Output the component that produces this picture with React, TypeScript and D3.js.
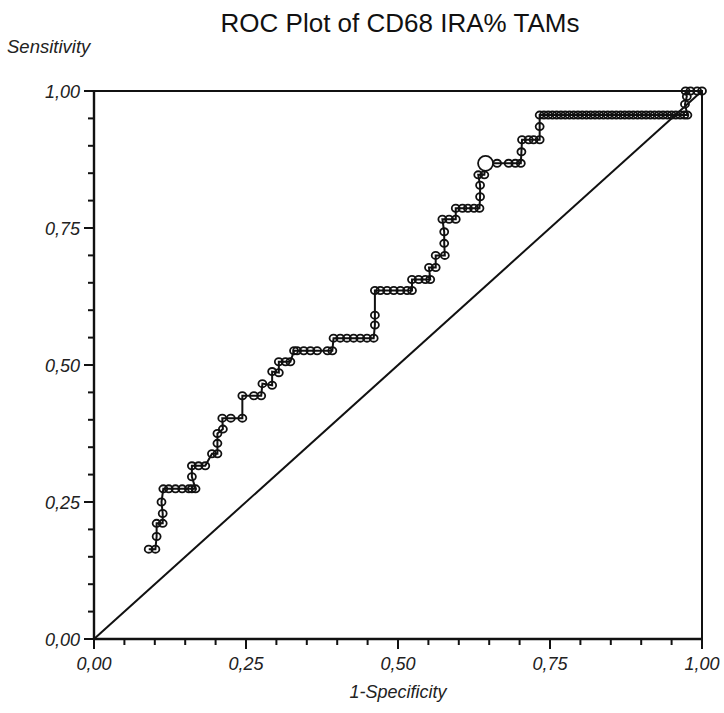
import React, { useEffect, useRef } from "react";
import * as d3 from "d3";

const title = "ROC Plot of CD68 IRA% TAMs";
const xLabel = "1-Specificity";
const yLabel = "Sensitivity";
const majorTicks = [0, 0.25, 0.5, 0.75, 1];
const minorTicks = [0.05, 0.1, 0.15, 0.2, 0.3, 0.35, 0.4, 0.45, 0.55, 0.6, 0.65, 0.7, 0.8, 0.85, 0.9, 0.95];

// 1-specificity values of ROC points
const fpr = [
  0.090, 0.101, 0.103, 0.103, 0.113, 0.113, 0.111, 0.114, 0.123, 0.134, 0.145, 0.156, 0.161, 0.167,
  0.161, 0.161, 0.172, 0.183,
  0.194, 0.203, 0.203, 0.203, 0.212, 0.211, 0.225, 0.244,
  0.244, 0.263, 0.275,
  0.277, 0.293, 0.293, 0.304, 0.304, 0.315, 0.323,
  0.329, 0.334, 0.345, 0.356, 0.367, 0.384, 0.392,
  0.394, 0.405, 0.416, 0.427, 0.438, 0.449, 0.460,
  0.462, 0.462, 0.462, 0.471, 0.482, 0.493, 0.504, 0.515, 0.523,
  0.523, 0.534, 0.545, 0.553,
  0.551, 0.562, 0.562, 0.577,
  0.576, 0.576, 0.573, 0.584, 0.595,
  0.595, 0.606, 0.615, 0.625, 0.634,
  0.635, 0.635, 0.632, 0.642,
  0.644, 0.663, 0.682, 0.693, 0.702,
  0.703, 0.704, 0.715, 0.723, 0.733,
  0.733, 0.733, 0.740, 0.747, 0.754, 0.761, 0.768, 0.775, 0.782, 0.789, 0.796, 0.803, 0.810,
  0.817, 0.824, 0.831, 0.838, 0.845, 0.852, 0.859, 0.866, 0.873, 0.880, 0.887, 0.894, 0.901,
  0.908, 0.915, 0.922, 0.929, 0.936, 0.943, 0.950, 0.957, 0.964, 0.971, 0.976,
  0.972, 0.975, 0.973, 0.981, 0.992, 1.0,
];
// sensitivity values of ROC points
const tpr = [
  0.164, 0.164, 0.187, 0.211, 0.211, 0.229, 0.250, 0.274, 0.274, 0.274, 0.274, 0.274, 0.274, 0.274,
  0.296, 0.316, 0.316, 0.316,
  0.338, 0.338, 0.357, 0.375, 0.383, 0.403, 0.403, 0.403,
  0.444, 0.444, 0.444,
  0.466, 0.463, 0.488, 0.486, 0.506, 0.506, 0.506,
  0.526, 0.526, 0.526, 0.526, 0.526, 0.526, 0.526,
  0.549, 0.549, 0.549, 0.549, 0.549, 0.549, 0.549,
  0.573, 0.591, 0.636, 0.636, 0.636, 0.636, 0.636, 0.636, 0.636,
  0.656, 0.656, 0.656, 0.656,
  0.678, 0.678, 0.700, 0.700,
  0.722, 0.743, 0.766, 0.766, 0.766,
  0.786, 0.786, 0.786, 0.786, 0.786,
  0.807, 0.828, 0.847, 0.847,
  0.868, 0.868, 0.868, 0.868, 0.868,
  0.889, 0.911, 0.911, 0.911, 0.911,
  0.935, 0.956, 0.956, 0.956, 0.956, 0.956, 0.956, 0.956, 0.956, 0.956, 0.956, 0.956, 0.956,
  0.956, 0.956, 0.956, 0.956, 0.956, 0.956, 0.956, 0.956, 0.956, 0.956, 0.956, 0.956, 0.956,
  0.956, 0.956, 0.956, 0.956, 0.956, 0.956, 0.956, 0.956, 0.956, 0.956, 0.956,
  0.976, 0.990, 1.0, 1.0, 1.0, 1.0,
];
// highlighted optimal cut-off point
const cutoffFpr = [0.644];
const cutoffTpr = [0.868];

const fmt = (v: number) => d3.format(".2f")(v).replace(".", ",");
const FONT = "'Liberation Sans', Arial, sans-serif";

export default function App() {
  const ref = useRef<SVGSVGElement>(null);
  useEffect(() => {
    document.body.style.margin = "0";
    const svg = d3.select(ref.current);
    svg.selectAll("*").remove();
    const x = d3.scaleLinear().domain([0, 1]).range([94, 702]);
    const y = d3.scaleLinear().domain([0, 1]).range([639, 91]);
    const g = svg.append("g");

    // diagonal
    g.append("line")
      .attr("x1", x(0)).attr("y1", y(0)).attr("x2", x(1)).attr("y2", y(1))
      .attr("stroke", "#111").attr("stroke-width", 2);

    // frame top/right
    g.append("path")
      .attr("d", `M${x(0)},${y(1)}H${x(1)}V${y(0)}`)
      .attr("fill", "none").attr("stroke", "#111").attr("stroke-width", 2);

    // axes
    g.append("line").attr("x1", x(0) - 1).attr("x2", x(1)).attr("y1", y(0)).attr("y2", y(0))
      .attr("stroke", "#111").attr("stroke-width", 2.4);
    g.append("line").attr("x1", x(0)).attr("x2", x(0)).attr("y1", y(0)).attr("y2", y(1))
      .attr("stroke", "#111").attr("stroke-width", 2.4);

    const drawTicks = (vals: number[], len: number) => {
      vals.forEach((v) => {
        g.append("line").attr("x1", x(v)).attr("x2", x(v)).attr("y1", y(0)).attr("y2", y(0) + len)
          .attr("stroke", "#111").attr("stroke-width", 2);
        g.append("line").attr("y1", y(v)).attr("y2", y(v)).attr("x1", x(0)).attr("x2", x(0) - len)
          .attr("stroke", "#111").attr("stroke-width", 2);
      });
    };
    drawTicks(minorTicks, 6);
    drawTicks(majorTicks, 10);

    majorTicks.forEach((v) => {
      g.append("text").attr("x", x(v)).attr("y", y(0) + 31).attr("text-anchor", "middle")
        .attr("font-family", FONT).attr("font-style", "italic").attr("font-size", 18)
        .attr("fill", "#222").text(fmt(v));
      g.append("text").attr("x", x(0) - 14).attr("y", y(v) + 6.5).attr("text-anchor", "end")
        .attr("font-family", FONT).attr("font-style", "italic").attr("font-size", 18)
        .attr("fill", "#222").text(fmt(v));
    });

    // title and labels
    svg.append("text").attr("x", 400).attr("y", 32).attr("text-anchor", "middle")
      .attr("font-family", FONT).attr("font-size", 26).attr("fill", "#111").text(title);
    svg.append("text").attr("x", 7).attr("y", 53)
      .attr("font-family", FONT).attr("font-style", "italic").attr("font-size", 18.5)
      .attr("fill", "#222").text(yLabel);
    svg.append("text").attr("x", 398).attr("y", 698).attr("text-anchor", "middle")
      .attr("font-family", FONT).attr("font-style", "italic").attr("font-size", 18)
      .attr("fill", "#222").text(xLabel);

    // ROC curve
    const pts = fpr.map((f, i) => [f, tpr[i]] as [number, number]);
    const line = d3.line<[number, number]>().x((d) => x(d[0])).y((d) => y(d[1]));
    g.append("path").attr("d", line(pts)!).attr("fill", "none")
      .attr("stroke", "#111").attr("stroke-width", 2);

    g.selectAll("ellipse.pt").data(pts).enter().append("ellipse")
      .attr("cx", (d) => x(d[0])).attr("cy", (d) => y(d[1]))
      .attr("rx", 4).attr("ry", 3.6)
      .attr("fill", "none").attr("stroke", "#111").attr("stroke-width", 1.8);

    cutoffFpr.forEach((f, i) => {
      g.append("circle").attr("cx", x(f)).attr("cy", y(cutoffTpr[i])).attr("r", 7.5)
        .attr("fill", "#fff").attr("stroke", "#111").attr("stroke-width", 1.8);
    });
  }, []);
  return <svg ref={ref} width={724} height={713} style={{ display: "block", background: "#fff" }} />;
}
